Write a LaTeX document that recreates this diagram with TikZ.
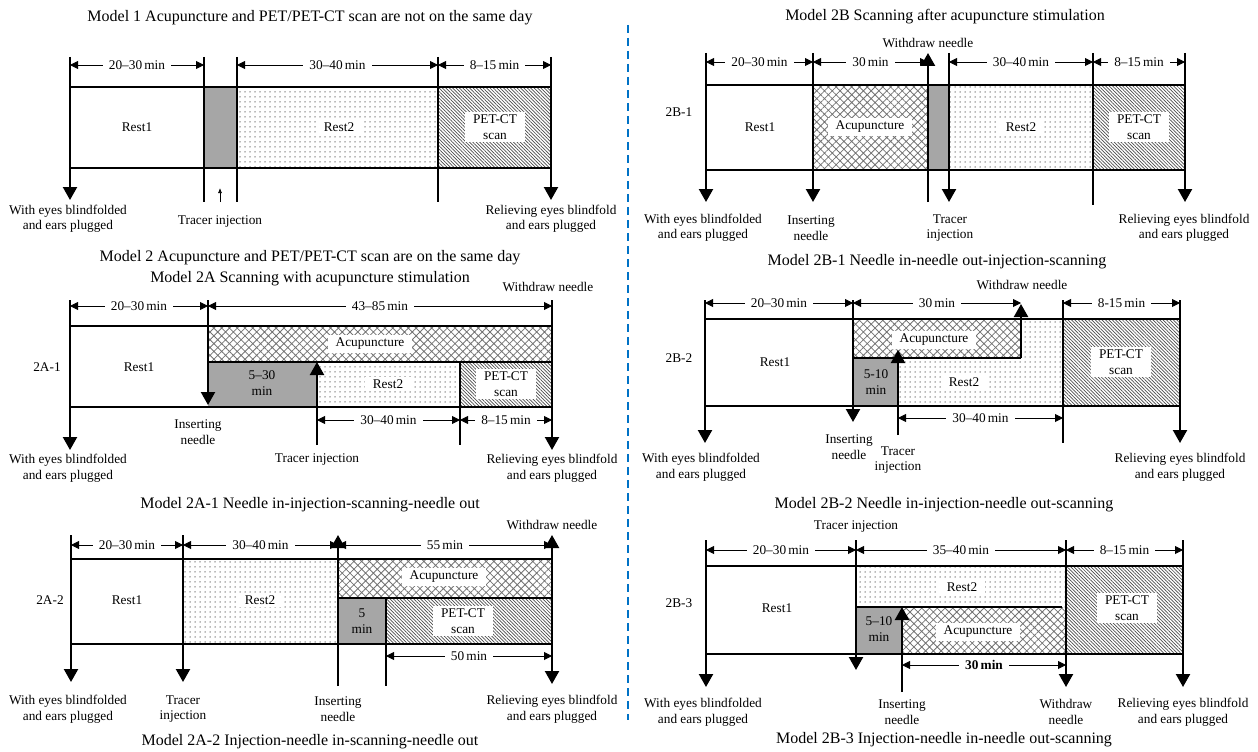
\documentclass[tikz,border=0pt]{standalone}
\usepackage{fontspec}
\setmainfont{Liberation Serif}
\usetikzlibrary{arrows.meta,patterns.meta}

\definecolor{sepblue}{RGB}{0,114,198}

\tikzset{
  every node/.style={font=\fontsize{13.3}{15.5}\selectfont},
  title/.style={font=\fontsize{16}{18}\selectfont},
  note/.style={align=center},
  bar/.style={line width=2pt},
  markline/.style={line width=2.2pt},
  bigarrow/.style={line width=2.2pt,-{Triangle[width=14pt,length=13pt]}},
  dimarrow/.style={line width=0.9pt,{Triangle[width=8pt,length=8pt]}-{Triangle[width=8pt,length=8pt]}},
  dimlabel/.style={fill=white,inner xsep=6pt,inner ysep=0.5pt},
  boxlabel/.style={fill=white,inner xsep=8pt,inner ysep=3pt,align=center},
  restfill/.style={pattern={Dots[distance=5pt,radius=0.75pt]},pattern color=black!55},
  acufill/.style={pattern={Hatch[angle=45,distance=5.5pt,line width=0.8pt]},pattern color=black!55},
  petfill/.style={pattern={Lines[angle=-45,distance=2.4pt,line width=0.7pt]},pattern color=black!70},
  injfill/.style={fill=black!35}
}

\begin{document}
\begin{tikzpicture}[x=1pt,y=-1pt]
  \useasboundingbox (0,0) rectangle (1258,752);

  % Separator
  \draw[sepblue,line width=2.2pt,dash pattern=on 8pt off 5pt] (628,25) -- (628,720);

  %%%%%%%%%%%%%%%% Model 1
  \node[title] (m1) at (310,18) {Model 1 Acupuncture and PET/PET-CT scan are not on the same day};
  \fill[injfill] (204,87) rectangle (237,168);
  \path[restfill] (237,87) rectangle (438,168);
  \path[petfill] (438,87) rectangle (551,168);
  \node (m1r1) at (137,127) {Rest1};
  \node[boxlabel] (m1r2) at (339,127) {Rest2};
  \node[boxlabel] (m1pet) at (495,127) {PET-CT\\scan};
  \draw[bar] (70,87) -- (551,87) (70,168) -- (551,168);

  % Draw markers
  \foreach \x in {70,551}{
    \draw[bigarrow] (\x,57) -- (\x,200);
  }
  \foreach \x in {204,237,438}{
    \draw[markline] (\x,57) -- (\x,202);
  }
  \draw[line width=0.7pt,-{Latex[length=5pt,width=4pt]}] (220,202) -- (220,188);

  % Draw durations
  \foreach \a/\b/\t in {70/204/20--30\,min, 237/438/30--40\,min, 438/551/8--15\,min}{
    \draw[dimarrow] (\a,65) -- node[dimlabel] (m1d\a) {\t} (\b,65);
  }
  \node[note] (m1s) at (68,219) {With eyes blindfolded\\and ears plugged};
  \node (m1t) at (220,222) {Tracer injection};
  \node[note] (m1e) at (551,219) {Relieving eyes blindfold\\and ears plugged};

  %%%%%%%%%%%%%%%% Model 2A-1
  \node[title] (m2) at (310,258) {Model 2 Acupuncture and PET/PET-CT scan are on the same day};
  \node[title] (m2a) at (310,279) {Model 2A Scanning with acupuncture stimulation};
  \node (a1w) at (548,287) {Withdraw needle};
  \path[acufill] (208,326) rectangle (552,362);
  \fill[injfill] (208,362) rectangle (317,407);
  \path[restfill] (317,362) rectangle (460,407);
  \path[petfill] (460,362) rectangle (552,407);
  \node (a1id) at (47,367) {2A-1};
  \node (a1r1) at (139,367) {Rest1};
  \node[boxlabel] (a1acu) at (370,344) {Acupuncture};
  \node[note] (a1inj) at (262,383) {5--30\\min};
  \node[boxlabel] (a1r2) at (388,384) {Rest2};
  \node[boxlabel] (a1pet) at (506,384) {PET-CT\\scan};
  \draw[bar] (70,326) -- (552,326) (208,362) -- (552,362) (70,407) -- (552,407);

  \foreach \x in {70,552}{
    \draw[bigarrow] (\x,300) -- (\x,450);
  }
  \draw[bigarrow] (208,300) -- (208,405);
  \draw[bigarrow] (317,445) -- (317,362);
  \draw[markline] (460,362) -- (460,445);

  \foreach \a/\b/\y/\t in {70/208/306/20--30\,min, 208/552/306/43--85\,min,
                           317/460/420/30--40\,min, 460/552/420/8--15\,min}{
    \draw[dimarrow] (\a,\y) -- node[dimlabel] (a1d\a-\y) {\t} (\b,\y);
  }
  \node[note] (a1s) at (68,468) {With eyes blindfolded\\and ears plugged};
  \node[note] (a1n) at (198,432) {Inserting\\needle};
  \node (a1t) at (317,460) {Tracer injection};
  \node[note] (a1e) at (552,468) {Relieving eyes blindfold\\and ears plugged};
  \node[title] (c2a1) at (310,505) {Model 2A-1 Needle in-injection-scanning-needle out};

  %%%%%%%%%%%%%%%% Model 2A-2
  \node (a2w) at (552,525) {Withdraw needle};
  \path[restfill] (183,559) rectangle (338,644);
  \path[acufill] (338,559) rectangle (552,598);
  \fill[injfill] (338,598) rectangle (386,644);
  \path[petfill] (386,598) rectangle (552,644);
  \node (a2id) at (50,600) {2A-2};
  \node (a2r1) at (127,600) {Rest1};
  \node[boxlabel] (a2r2) at (260,600) {Rest2};
  \node[boxlabel] (a2acu) at (444,577) {Acupuncture};
  \node[note] (a2inj) at (362,621) {5\\min};
  \node[boxlabel] (a2pet) at (463,621) {PET-CT\\scan};
  \draw[bar] (71,559) -- (552,559) (338,598) -- (552,598) (71,644) -- (552,644);

  \foreach \x in {71,183}{
    \draw[bigarrow] (\x,535) -- (\x,682);
  }
  \draw[bigarrow] (338,686) -- (338,535);
  \draw[markline] (386,598) -- (386,686);
  \draw[line width=2.2pt,{Triangle[width=14pt,length=13pt]}-{Triangle[width=14pt,length=13pt]}] (552,535) -- (552,684);

  \foreach \a/\b/\y/\t in {71/183/545/20--30\,min, 183/338/545/30--40\,min,
                           338/552/545/55\,min, 386/552/656/50\,min}{
    \draw[dimarrow] (\a,\y) -- node[dimlabel] (a2d\a-\y) {\t} (\b,\y);
  }
  \node[note] (a2s) at (68,709) {With eyes blindfolded\\and ears plugged};
  \node[note] (a2t) at (183,709) {Tracer\\injection};
  \node[note] (a2n) at (338,709) {Inserting\\needle};
  \node[note] (a2e) at (552,709) {Relieving eyes blindfold\\and ears plugged};
  \node[title] (c2a2) at (310,742) {Model 2A-2 Injection-needle in-scanning-needle out};

  %%%%%%%%%%%%%%%% Model 2B-1
  \node[title] (m2b) at (945,17) {Model 2B Scanning after acupuncture stimulation};
  \node (b1w) at (928,43) {Withdraw needle};
  \path[acufill] (813,85) rectangle (928,170);
  \fill[injfill] (928,85) rectangle (949,170);
  \path[restfill] (949,85) rectangle (1093,170);
  \path[petfill] (1093,85) rectangle (1185,170);
  \node (b1id) at (679,112) {2B-1};
  \node (b1r1) at (760,127) {Rest1};
  \node[boxlabel] (b1acu) at (870,127) {Acupuncture};
  \node[boxlabel] (b1r2) at (1021,127) {Rest2};
  \node[boxlabel] (b1pet) at (1139,127) {PET-CT\\scan};
  \draw[bar] (706,85) -- (1185,85) (706,170) -- (1185,170);

  \foreach \x in {706,813,949,1185}{
    \draw[bigarrow] (\x,53) -- (\x,202);
  }
  \draw[bigarrow] (928,202) -- (928,53);
  \draw[markline] (1093,53) -- (1093,205);

  \foreach \a/\b/\t in {706/813/20--30\,min, 813/928/30\,min,
                        949/1093/30--40\,min, 1093/1185/8--15\,min}{
    \draw[dimarrow] (\a,62) -- node[dimlabel] (b1d\a) {\t} (\b,62);
  }
  \node[note] (b1s) at (703,228) {With eyes blindfolded\\and ears plugged};
  \node[note] (b1n) at (811,228) {Inserting\\needle};
  \node[note] (b1t) at (950,228) {Tracer\\injection};
  \node[note] (b1e) at (1184,228) {Relieving eyes blindfold\\and ears plugged};
  \node[title] (c2b1) at (937,262) {Model 2B-1 Needle in-needle out-injection-scanning};

  %%%%%%%%%%%%%%%% Model 2B-2
  \node (b2w) at (1022,285) {Withdraw needle};
  \path[acufill] (853,319) rectangle (1021,358);
  \path[restfill] (898,406) -- (898,358) -- (1021,358) -- (1021,319)
                  -- (1063,319) -- (1063,406) -- cycle;
  \fill[injfill] (853,358) rectangle (898,406);
  \path[petfill] (1063,319) rectangle (1180,406);
  \node (b2id) at (679,358) {2B-2};
  \node (b2r1) at (775,362) {Rest1};
  \node[boxlabel] (b2acu) at (934,340) {Acupuncture};
  \node[note] (b2inj) at (876,382) {5-10\\min};
  \node[boxlabel] (b2r2) at (964,382) {Rest2};
  \node[boxlabel] (b2pet) at (1121,362) {PET-CT\\scan};
  \draw[bar] (705,319) -- (1180,319) (853,358) -- (1021,358) (705,406) -- (1180,406);

  \foreach \x in {705,1180}{
    \draw[bigarrow] (\x,300) -- (\x,443);
  }
  \draw[bigarrow] (853,300) -- (853,422);
  \draw[bigarrow] (1021,358) -- (1021,304);
  \draw[bigarrow] (898,435) -- (898,350);
  \draw[markline] (1063,300) -- (1063,443);

  \foreach \a/\b/\y/\t in {705/853/303/20--30\,min, 853/1021/303/30\,min,
                           1063/1180/303/8-15\,min, 898/1063/418/30--40\,min}{
    \draw[dimarrow] (\a,\y) -- node[dimlabel] (b2d\a-\y) {\t} (\b,\y);
  }
  \node[note] (b2s) at (701,467) {With eyes blindfolded\\and ears plugged};
  \node[note] (b2n) at (849,447) {Inserting\\needle};
  \node[note] (b2t) at (898,460) {Tracer\\injection};
  \node[note] (b2e) at (1180,467) {Relieving eyes blindfold\\and ears plugged};
  \node[title] (c2b2) at (944,505) {Model 2B-2 Needle in-injection-needle out-scanning};

  %%%%%%%%%%%%%%%% Model 2B-3
  \node (b3t) at (856,527) {Tracer injection};
  \path[restfill] (856,566) rectangle (1066,607);
  \fill[injfill] (856,607) rectangle (902,654);
  \path[acufill] (902,607) rectangle (1066,654);
  \path[petfill] (1066,566) rectangle (1183,654);
  \node (b3id) at (679,603) {2B-3};
  \node (b3r1) at (777,608) {Rest1};
  \node[boxlabel] (b3r2) at (962,587) {Rest2};
  \node[note] (b3inj) at (879,629) {5--10\\min};
  \node[boxlabel] (b3acu) at (978,632) {Acupuncture};
  \node[boxlabel] (b3pet) at (1127,608) {PET-CT\\scan};
  \draw[bar] (706,566) -- (1183,566) (856,607) -- (1062,607) (706,654) -- (1183,654);

  \foreach \x in {706,1066,1183}{
    \draw[bigarrow] (\x,540) -- (\x,687);
  }
  \draw[bigarrow] (856,540) -- (856,670);
  \draw[bigarrow] (902,692) -- (902,607);

  \foreach \a/\b/\y/\t in {706/856/550/20--30\,min, 856/1066/550/35--40\,min,
                           1066/1183/550/8--15\,min, 902/1066/665/\textbf{30\,min}}{
    \draw[dimarrow] (\a,\y) -- node[dimlabel] (b3d\a-\y) {\t} (\b,\y);
  }
  \node[note] (b3s) at (703,712) {With eyes blindfolded\\and ears plugged};
  \node[note] (b3n) at (902,712) {Inserting\\needle};
  \node[note] (b3w) at (1066,712) {Withdraw\\needle};
  \node[note] (b3e) at (1183,712) {Relieving eyes blindfold\\and ears plugged};
  \node[title] (c2b3) at (944,740) {Model 2B-3 Injection-needle in-needle out-scanning};
\end{tikzpicture}
\end{document}
